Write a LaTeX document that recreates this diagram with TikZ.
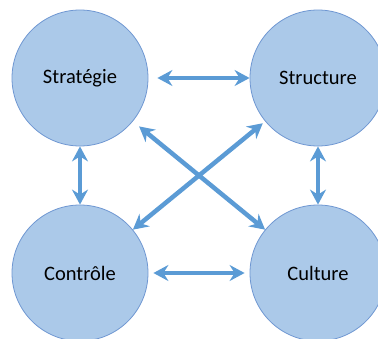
\documentclass[tikz,border=0pt]{standalone}
\usepackage{fontspec}
\setmainfont{Carlito}
\usepackage{tikz}
\usetikzlibrary{arrows.meta,positioning,calc}
\definecolor{disc}{HTML}{ABC9E9}
\definecolor{rim}{HTML}{6F97D2}
\definecolor{link}{HTML}{5B9BD5}
\tikzset{pole/.style={circle,draw=rim,fill=disc,line width=0.8pt,minimum size=136pt,inner sep=0pt,font=\fontsize{20.5}{24}\selectfont}, tie/.style={{Stealth[length=15pt,width=16pt,inset=5pt]}-{Stealth[length=15pt,width=16pt,inset=5pt]},line width=4.5pt,draw=link}}

\begin{document}
\begin{tikzpicture}[x=1pt,y=-1pt]
\useasboundingbox (0,0) rectangle (378,338);
\clip (0,0) rectangle (378,338);
\node[pole] (strat) at (80,78) {Stratégie};
\node[pole] (struc) at (318,78) {Structure};
\node[pole] (ctrl) at (80,273) {Contrôle};
\node[pole] (cult) at (318,273) {Culture};
\draw[tie,shorten <=9pt] (strat)--(struc);
\draw[tie,shorten <=5pt,shorten >=5pt] (ctrl)--(cult);
\draw[tie] (strat)--(ctrl);
\draw[tie] (struc)--(cult);
\draw[tie,shorten <=8pt] (strat)--(cult);
\draw[tie,shorten <=3pt] (struc)--(ctrl);
\end{tikzpicture}
\end{document}
